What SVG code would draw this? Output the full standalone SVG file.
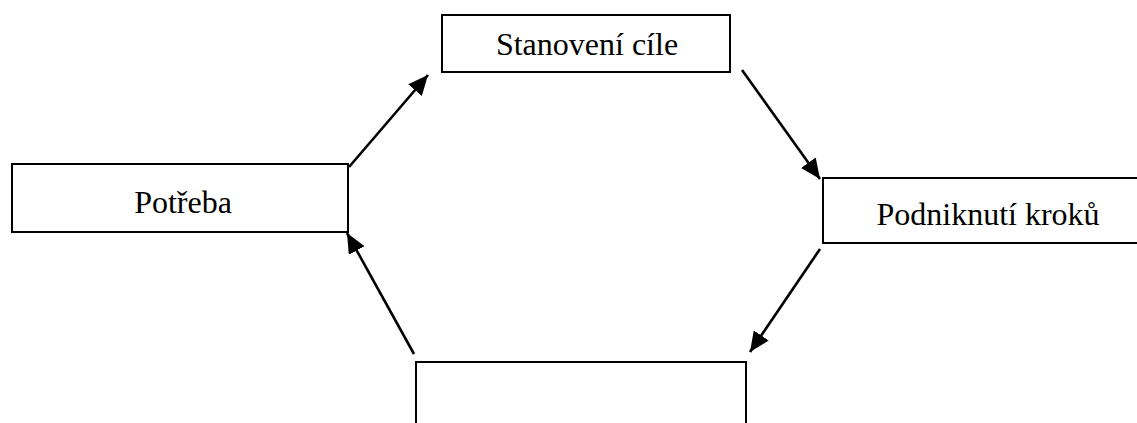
<svg xmlns="http://www.w3.org/2000/svg" width="1137" height="423" viewBox="0 0 1137 423">
  <style>
    .box { fill: #ffffff; stroke: #000000; stroke-width: 2; }
    .label { font-family: "Liberation Serif", "Times New Roman", serif; font-size: 32px; fill: #000000; text-anchor: middle; }
    .link { stroke: #000000; stroke-width: 2.6; fill: none; marker-end: url(#head); }
  </style>
  <defs>
    <marker id="head" markerUnits="userSpaceOnUse" markerWidth="22" markerHeight="18" refX="20" refY="9" orient="auto">
      <path d="M0,0 L20,9 L0,18 Z" fill="#000000"/>
    </marker>
  </defs>
  <rect width="1137" height="423" fill="#ffffff"/>

  <g id="node-stanoveni">
    <rect class="box" x="442" y="15" width="288" height="57"/>
    <text class="label" x="587" y="55">Stanovení cíle</text>
  </g>

  <g id="node-potreba">
    <rect class="box" x="12" y="164" width="336" height="68"/>
    <text class="label" x="183" y="213">Potřeba</text>
  </g>

  <g id="node-podniknuti">
    <rect class="box" x="823" y="178" width="330" height="65"/>
    <text class="label" x="988" y="225">Podniknutí kroků</text>
  </g>

  <g id="node-bottom">
    <rect class="box" x="416" y="362" width="330" height="80"/>
  </g>

  <g id="connectors">
    <line class="link" x1="349" y1="167" x2="428" y2="75"/>
    <line class="link" x1="742" y1="70" x2="820" y2="179"/>
    <line class="link" x1="820" y1="249" x2="750" y2="352"/>
    <line class="link" x1="414" y1="354" x2="347" y2="233"/>
  </g>
</svg>
